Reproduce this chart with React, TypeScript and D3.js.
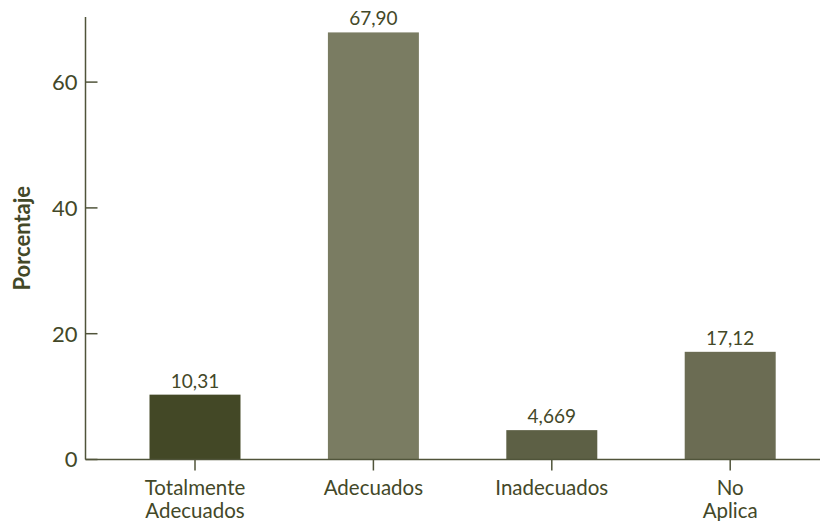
import React from "react";
import * as d3 from "d3";

const categories: string[][] = [["Totalmente", "Adecuados"], ["Adecuados"], ["Inadecuados"], ["No", "Aplica"]];
const values: number[] = [10.31, 67.9, 4.669, 17.12];
const valueLabels: string[] = ["10,31", "67,90", "4,669", "17,12"];
const barColors: string[] = ["#434826", "#7a7c62", "#5d6045", "#6b6c53"];
const yTicks: number[] = [0, 20, 40, 60];

const W = 820;
const H = 521;
const FONT = "Lato, 'Open Sans', sans-serif";
const TEXT = "#434828";
const AXIS = "#50543a";

export default function App() {
  const x0 = 85.5;
  const yBase = 459.5;
  const y = d3.scaleLinear().domain([0, 70.35]).range([yBase, 17]);
  const keys = categories.map((c) => c.join(" "));
  const x = d3
    .scaleBand<string>()
    .domain(keys)
    .range([105.8, 819.4])
    .paddingInner(0.49)
    .paddingOuter(0.245);

  return (
    <svg
      width={W}
      height={H}
      style={{ position: "absolute", left: 0, top: 0, background: "#fff" }}
      fontFamily={FONT}
    >
      {values.map((v, i) => (
        <rect
          key={i}
          x={x(keys[i])!}
          y={y(v)}
          width={x.bandwidth()}
          height={yBase - y(v)}
          fill={barColors[i]}
        />
      ))}
      {values.map((v, i) => (
        <text
          key={"v" + i}
          x={x(keys[i])! + x.bandwidth() / 2}
          y={y(v) - 7}
          textAnchor="middle"
          fontSize={19}
          fill={TEXT}
        >
          {valueLabels[i]}
        </text>
      ))}
      <line x1={x0} x2={x0} y1={y.range()[1]} y2={yBase} stroke={AXIS} strokeWidth={1.5} />
      <line x1={x0} x2={W} y1={yBase} y2={yBase} stroke={AXIS} strokeWidth={1.5} />
      {yTicks.map((t) => (
        <g key={t}>
          <line x1={x0} x2={x0 + 12} y1={y(t)} y2={y(t)} stroke={AXIS} strokeWidth={1.5} />
          <text
            x={x0 - 8}
            y={y(t)}
            dy="0.36em"
            textAnchor="end"
            fontSize={22}
            fill={TEXT}
          >
            {t}
          </text>
        </g>
      ))}
      {keys.map((k, i) => {
        const cx = x(k)! + x.bandwidth() / 2;
        return (
          <g key={k}>
            <line x1={cx} x2={cx} y1={yBase} y2={yBase + 11} stroke={AXIS} strokeWidth={1.5} />
            {categories[i].map((line, j) => (
              <text
                key={j}
                x={cx}
                y={495 + j * 23}
                textAnchor="middle"
                fontSize={20.5}
                fill={TEXT}
              >
                {line}
              </text>
            ))}
          </g>
        );
      })}
      <text
        transform={`translate(${30},${(y.range()[0] + y.range()[1]) / 2}) rotate(-90)`}
        textAnchor="middle"
        fontSize={22}
        fontWeight="bold"
        fill={TEXT}
      >
        Porcentaje
      </text>
    </svg>
  );
}
